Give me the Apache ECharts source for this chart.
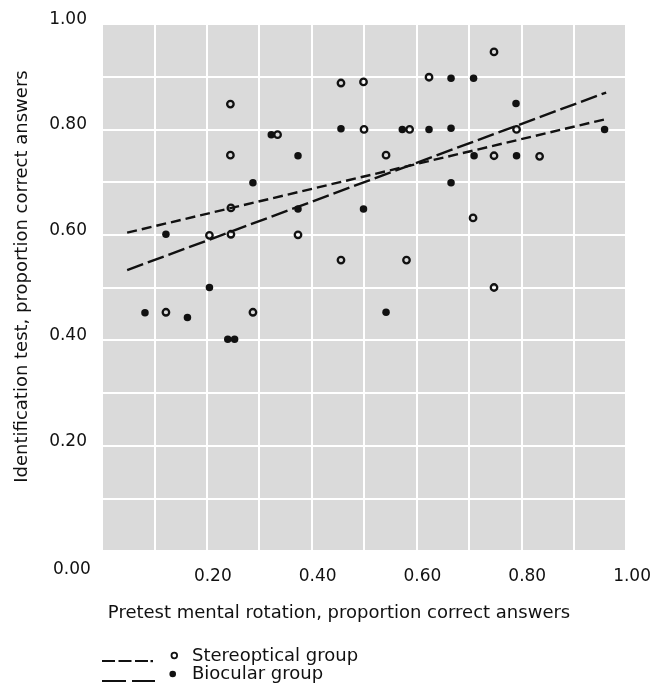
<!DOCTYPE html>
<html>
<head>
<meta charset="utf-8">
<script src="https://cdn.jsdelivr.net/npm/echarts@6/dist/echarts.min.js"></script>
<style>
  html, body { margin: 0; padding: 0; background: #fff; }
  #main { width: 654px; height: 687px; }
</style>
</head>
<body>
<div id="main"></div>
<script>
// pretest (x) vs identification test (y)
var stereoptical = [
  [0.122, 0.453], [0.205, 0.599], [0.246, 0.601], [0.246, 0.651], [0.245, 0.751],
  [0.245, 0.848], [0.288, 0.453], [0.335, 0.790], [0.374, 0.600], [0.456, 0.888],
  [0.456, 0.552], [0.499, 0.890], [0.500, 0.800], [0.542, 0.751], [0.581, 0.552],
  [0.587, 0.800], [0.624, 0.899], [0.708, 0.632], [0.748, 0.947], [0.748, 0.750],
  [0.748, 0.500], [0.791, 0.800], [0.835, 0.749]
];
var biocular = [
  [0.082, 0.452], [0.122, 0.601], [0.163, 0.443], [0.205, 0.500], [0.240, 0.402],
  [0.253, 0.402], [0.288, 0.699], [0.323, 0.790], [0.374, 0.750], [0.374, 0.649],
  [0.456, 0.801], [0.499, 0.649], [0.542, 0.453], [0.573, 0.800], [0.624, 0.800],
  [0.666, 0.897], [0.666, 0.802], [0.666, 0.699], [0.709, 0.897], [0.710, 0.750],
  [0.790, 0.849], [0.791, 0.750], [0.959, 0.800]
];
// regression lines, end points
var stereoLine = [[0.048, 0.604], [0.959, 0.819]];
var bioLine = [[0.048, 0.533], [0.962, 0.870]];

var xTitle = 'Pretest mental rotation, proportion correct answers';
var yTitle = 'Identification test, proportion correct answers';
var legendNames = ['Stereoptical group', 'Biocular group'];

var font = 'DejaVu Sans';
var ink = '#111';

var myChart = echarts.init(document.getElementById('main'));

var option = {
  animation: false,
  backgroundColor: '#fff',
  grid: {
    left: 102, right: 24, top: 24, bottom: 136,
    show: true, backgroundColor: '#dadada', borderWidth: 0
  },
  xAxis: {
    type: 'value', min: 0, max: 1, interval: 0.2,
    name: xTitle, nameLocation: 'middle', nameGap: 53,
    nameTextStyle: { fontFamily: font, fontSize: 18, color: ink, padding: [0, 50, 0, 0] },
    axisLine: { show: false }, axisTick: { show: false },
    axisLabel: {
      showMinLabel: false, margin: 17, padding: [0, 0, 0, 12],
      fontFamily: font, fontSize: 17, color: ink,
      formatter: function (v) { return v.toFixed(2); }
    },
    splitLine: { lineStyle: { color: '#fff', width: 2 } },
    minorTick: { show: false, splitNumber: 2 },
    minorSplitLine: { show: true, lineStyle: { color: '#fff', width: 2 } }
  },
  yAxis: {
    type: 'value', min: 0, max: 1, interval: 0.2,
    name: yTitle, nameLocation: 'middle', nameGap: 71,
    nameTextStyle: { fontFamily: font, fontSize: 18, color: ink, padding: [0, 0, 0, 22] },
    axisLine: { show: false }, axisTick: { show: false },
    axisLabel: {
      showMinLabel: false, margin: 15,
      verticalAlign: 'bottom', lineHeight: 9,
      fontFamily: font, fontSize: 17, color: ink,
      formatter: function (v) { return v.toFixed(2); }
    },
    splitLine: { lineStyle: { color: '#fff', width: 2 } },
    minorTick: { show: false, splitNumber: 2 },
    minorSplitLine: { show: true, lineStyle: { color: '#fff', width: 2 } }
  },
  series: [
    {
      name: legendNames[0], type: 'scatter', data: stereoptical,
      symbol: 'circle', symbolSize: 6.5,
      itemStyle: { color: 'rgba(0,0,0,0)', borderColor: '#111', borderWidth: 2.3, opacity: 1 }
    },
    {
      name: legendNames[1], type: 'scatter', data: biocular,
      symbol: 'circle', symbolSize: 7.5,
      itemStyle: { color: '#111', opacity: 1 }
    },
    {
      type: 'line', data: stereoLine, showSymbol: false, z: 3,
      lineStyle: { color: '#111', width: 2.4, type: [10, 5] }
    },
    {
      type: 'line', data: bioLine, showSymbol: false, z: 3,
      lineStyle: { color: '#111', width: 2.4, type: [17, 5] }
    }
  ],
  graphic: [
    // shared origin label
    { type: 'text', left: 53, top: 561, style: { text: '0.00', font: '17px "DejaVu Sans"', fill: ink } },
    // legend
    { type: 'line', shape: { x1: 102, y1: 661, x2: 148, y2: 661 },
      style: { stroke: '#111', lineWidth: 2.2, lineDash: [13, 3.5] } },
    { type: 'rect', shape: { x: 150.5, y: 660, width: 2.5, height: 2.2 }, style: { fill: '#111' } },
    { type: 'circle', shape: { cx: 174.3, cy: 655.5, r: 2.8 },
      style: { fill: 'none', stroke: '#111', lineWidth: 1.8 } },
    { type: 'text', left: 192, top: 647, style: { text: legendNames[0], font: '18px "DejaVu Sans"', fill: ink } },
    { type: 'line', shape: { x1: 102, y1: 681, x2: 155, y2: 681 },
      style: { stroke: '#111', lineWidth: 2.2, lineDash: [24, 6] } },
    { type: 'circle', shape: { cx: 172.7, cy: 674, r: 3.3 }, style: { fill: '#111' } },
    { type: 'text', left: 192, top: 665, style: { text: legendNames[1], font: '18px "DejaVu Sans"', fill: ink } }
  ]
};

myChart.setOption(option);
</script>
</body>
</html>
